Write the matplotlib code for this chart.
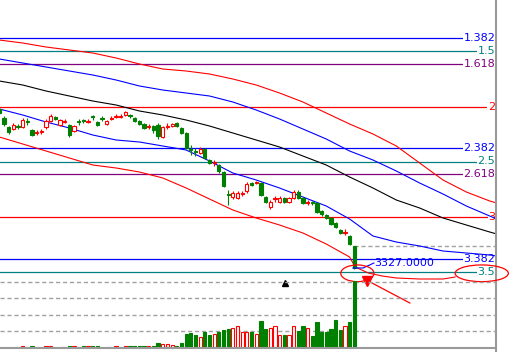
import numpy as np
import matplotlib
matplotlib.use('Agg')
import matplotlib.pyplot as plt
from matplotlib.patches import Ellipse

# daily candles, oldest first (price units)
opens = [3486, 3477, 3468, 3466, 3469, 3468, 3474, 3465, 3462, 3463,
         3468, 3474, 3478, 3470, 3473, 3470, 3464, 3474, 3475, 3473,
         3479, 3473, 3477, 3471, 3476, 3478, 3478, 3480, 3480, 3477,
         3474, 3471, 3468, 3469, 3470, 3458, 3468, 3469, 3472, 3467,
         3462, 3446, 3444, 3442, 3446, 3435, 3432, 3430, 3423, 3401,
         3398, 3397, 3401, 3404, 3412, 3412, 3412, 3398, 3388, 3396,
         3393, 3397, 3393, 3397, 3403, 3397, 3392, 3393, 3392, 3384,
         3380, 3377, 3372, 3365, 3362, 3359, 3349]
closes = [3482, 3471, 3463, 3470, 3468, 3475, 3473, 3460, 3463, 3464,
          3474, 3479, 3476, 3475, 3474, 3460, 3469, 3473, 3474, 3474,
          3478, 3470, 3476, 3474, 3477, 3479, 3479, 3483, 3479, 3474,
          3471, 3467, 3469, 3465, 3459, 3468, 3469, 3471, 3469, 3462,
          3447, 3445, 3443, 3446, 3437, 3432, 3433, 3424, 3409, 3400,
          3402, 3402, 3402, 3411, 3410, 3413, 3400, 3393, 3393, 3397,
          3397, 3393, 3397, 3403, 3397, 3392, 3393, 3392, 3383, 3381,
          3377, 3371, 3368, 3362, 3363, 3351, 3327]
highs = [3488, 3479, 3469, 3472, 3471, 3477, 3477, 3466, 3465, 3466,
         3476, 3481, 3479, 3476, 3476, 3471, 3470, 3476, 3476, 3476,
         3480, 3474, 3479, 3475, 3479, 3481, 3481, 3484, 3481, 3478,
         3475, 3472, 3471, 3470, 3472, 3469, 3472, 3472, 3473, 3468,
         3463, 3450, 3447, 3448, 3447, 3436, 3435, 3431, 3424, 3405,
         3404, 3404, 3404, 3413, 3413, 3414, 3413, 3399, 3395, 3399,
         3399, 3398, 3398, 3405, 3405, 3398, 3395, 3394, 3393, 3385,
         3381, 3378, 3373, 3366, 3366, 3360, 3349]
lows = [3480, 3469, 3461, 3465, 3466, 3467, 3470, 3459, 3460, 3461,
        3466, 3473, 3475, 3469, 3472, 3458, 3463, 3470, 3472, 3472,
        3475, 3469, 3474, 3470, 3475, 3477, 3477, 3479, 3477, 3473,
        3470, 3466, 3466, 3462, 3456, 3457, 3466, 3468, 3468, 3461,
        3446, 3440, 3439, 3441, 3436, 3431, 3429, 3422, 3408, 3390,
        3396, 3396, 3399, 3402, 3409, 3411, 3399, 3392, 3386, 3393,
        3392, 3392, 3392, 3396, 3396, 3391, 3390, 3390, 3382, 3379,
        3376, 3370, 3367, 3361, 3360, 3350, 3326]
volumes = [0, 0, 0, 0, 0, 0.07, 0, 0.07, 0, 0,
           0.07, 0.07, 0, 0, 0, 0.07, 0.07, 0, 0.07, 0.07,
           0.07, 0.07, 0, 0, 0, 0.07, 0, 0.07, 0.07, 0.07,
           0.07, 0.07, 0.07, 0.12, 0.30, 0.24, 0.24, 0.18, 0.12, 0.30,
           0.79, 0.85, 0.73, 0.61, 0.97, 0.73, 0.79, 0.91, 1.09, 1.15,
           1.21, 1.33, 0.97, 0.97, 0.97, 0.79, 1.58, 1.15, 1.21, 1.33,
           0.73, 0.73, 0.73, 1.33, 1.03, 1.33, 1.21, 0.67, 1.52, 0.97,
           0.97, 1.15, 1.64, 1.09, 1.33, 1.52, 4.06]

fib_labels = ['1.382', '1.5', '1.618', '2', '2.382', '2.5', '2.618', '3', '3.382', '3.5']
fib_levels = [3556.7, 3543.7, 3530.7, 3488.5, 3446.7, 3433.5, 3420.8, 3378.5, 3336.0, 3323.0]
fib_colors = ['#0000ff', '#008080', '#800080', '#ff0000'] * 3

# channel lines, sampled along the bar index
band_x = [0, 5, 10, 15, 20, 25, 30, 35, 40, 45, 50, 55, 60, 65, 70, 75,
          80, 85, 90, 95, 100, 105, 106.5]
upper_red = [3555, 3552, 3548, 3545, 3542, 3537, 3531, 3526, 3524, 3521, 3516, 3510,
             3502, 3493, 3482, 3471, 3461, 3449, 3432, 3415, 3403, 3394, 3392]
upper_blue = [3536, 3532, 3528, 3524, 3520, 3515, 3509, 3505, 3502, 3499, 3493, 3485,
              3476, 3466, 3456, 3444, 3435, 3424, 3412, 3401, 3389, 3379, 3376]
middle = [3514, 3510, 3504, 3499, 3494, 3490, 3484, 3480, 3475, 3469, 3462, 3455,
          3448, 3439, 3430, 3418, 3407, 3395, 3387, 3377, 3370, 3363, 3361]
lower_blue = [3486, 3480, 3473, 3467, 3460, 3455, 3453, 3449, 3445, 3434, 3422, 3415,
              3407, 3398, 3389, 3376, 3359, 3353, 3349, 3344, 3342, 3340, 3339]
lower_red_x = [0, 5, 10, 15, 20, 25, 30, 35, 40, 45, 50, 55, 60, 65, 70, 75,
               76.2, 79, 82, 85, 90, 95, 97.6]
lower_red = [3458, 3451, 3444, 3437, 3430, 3427, 3423, 3417, 3407, 3396, 3385, 3377,
             3370, 3362, 3351, 3338, 3328, 3322, 3319, 3317, 3316, 3316, 3318]

RED = '#ff0000'
GREEN = '#008000'
GRAY = '#a0a0a0'
W, H = 519, 352
XMIN, XMAX = 0.14, 106.35

fig = plt.figure(figsize=(W / 100, H / 100), dpi=100)
ax = fig.add_axes([0, 0, 496 / W, 1])
ax.set_xlim(XMIN, XMAX)
ax.set_ylim(3243, 3595)
ax.set_xticks([])
ax.set_yticks([])
for s in ['top', 'left', 'bottom']:
    ax.spines[s].set_visible(False)
ax.spines['right'].set_color('#999999')
ax.spines['right'].set_linewidth(1.5)

# fibonacci levels
for lab, lev, col in zip(fib_labels, fib_levels, fib_colors):
    ax.axhline(lev, color=col, lw=0.9, zorder=1)
    ax.text(106.2, lev, lab, ha='right', va='center', color=col, fontsize=8,
            bbox=dict(fc='white', ec='none', pad=0.6), zorder=2)

# channels
ax.plot(band_x, upper_red, color=RED, lw=0.8, zorder=2)
ax.plot(band_x, upper_blue, color='#0000ff', lw=0.8, zorder=2)
ax.plot(band_x, middle, color='black', lw=0.8, zorder=2)
ax.plot(band_x, lower_blue, color='#0000ff', lw=0.8, zorder=2)
ax.plot(lower_red_x, lower_red, color=RED, lw=0.8, zorder=2)

# candles
o = np.array(opens, dtype=float)
c = np.array(closes, dtype=float)
idx = np.arange(len(o))
up = c >= o
cols = np.where(up, RED, GREEN)
ax.vlines(idx, lows, highs, colors=cols, lw=0.8, zorder=3)
ax.bar(idx, np.maximum(np.abs(c - o), 0.8), bottom=np.minimum(o, c), width=0.7,
       color=np.where(up, 'white', GREEN), edgecolor=cols, lw=0.8, zorder=4)

# last price marker
ax.hlines(opens[-1], idx[-1], XMAX, color=GRAY, ls=(0, (3, 2)), lw=1, zorder=1)
ax.plot([75.7, 77.9, 80.2], [3327, 3327, 3332], color='#0000ff', lw=0.8, zorder=5)
ax.text(80.2, 3332, f'{closes[-1]:.4f}', color='#0000ff', fontsize=8,
        ha='left', va='center', zorder=5)

# hand drawn marks
ax.add_patch(Ellipse((76.66, 3321.7), 7.1, 16.7, fill=False, ec=RED, lw=0.9, zorder=6))
ax.add_patch(Ellipse((103.3, 3321.7), 11.4, 16.7, fill=False, ec=RED, lw=0.9,
                     zorder=6, clip_on=False))
ax.plot([87.9, 79.4], [3292, 3313], color=RED, lw=0.9, zorder=6)
ax.plot([78.7], [3314], marker='v', color=RED, ms=7, zorder=6)
ax.plot([61.1], [3312.5], marker='^', color='black', ms=4, zorder=6)

# volume panel
axv = fig.add_axes([0, 4.5 / H, 496 / W, 77.5 / H], facecolor='none')
axv.set_xlim(XMIN, XMAX)
axv.set_ylim(0, 4.7)
axv.set_xticks([])
axv.set_yticks([])
for s in ['top', 'left', 'right']:
    axv.spines[s].set_visible(False)
axv.spines['bottom'].set_color('#999999')
axv.spines['bottom'].set_linewidth(1.5)
for g in [1, 2, 3, 4]:
    axv.axhline(g, color=GRAY, ls=(0, (3, 2)), lw=1, zorder=0)
axv.bar(idx, volumes, width=0.7, color=np.where(up, 'white', GREEN),
        edgecolor=cols, lw=0.8, zorder=2)

fig.savefig('out.png', dpi=100)
